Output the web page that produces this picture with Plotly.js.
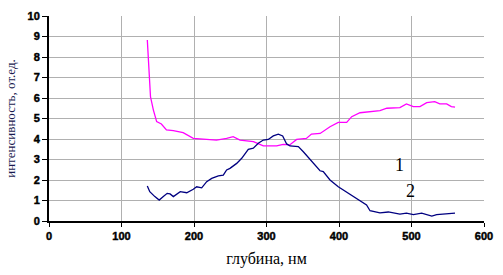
<!DOCTYPE html>
<html><head><meta charset="utf-8">
<script src="https://cdn.plot.ly/plotly-3.0.1.min.js"></script>
<style>body{margin:0;padding:0;background:#fff}#c{width:503px;height:275px}
.xtick text,.ytick text{font-weight:700 !important;stroke:#000;stroke-width:0.45px}</style>
</head><body><div id="c"></div>
<script>
const depth1 = [135.6,140,144,148.5,155,162,171.5,185,199,217.5,231,245,254,263.5,282,295.6,314,323,332,341.6,355,362,374,387.6,399,410.6,417.5,429,456.5,466,484,493,502.5,511.7,521,532,539,548.5,555,560];
const int1 = [8.83,6.06,5.41,4.85,4.73,4.44,4.41,4.31,4.03,4.0,3.95,4.03,4.11,3.95,3.87,3.66,3.66,3.74,3.71,3.98,4.03,4.24,4.27,4.6,4.81,4.81,5.09,5.28,5.38,5.5,5.53,5.71,5.58,5.58,5.77,5.82,5.71,5.71,5.58,5.55];
const depth2 = [135.6,139,146,152,157.7,163,167,171.5,181,190,199,203.7,210.6,217.5,224.4,233.6,240.4,245,249.6,258.9,265.8,274.9,281.8,288.7,295.6,302.5,309.4,316.3,322.3,327.8,332.4,343.9,350.8,360,366.9,373.8,378.3,387.6,399,415,431,438,442.8,456.5,468,484,493,502.6,514,528,534.7,548.5,560];
const int2 = [1.71,1.43,1.19,1.02,1.19,1.35,1.32,1.19,1.43,1.38,1.55,1.67,1.62,1.92,2.08,2.2,2.24,2.49,2.57,2.81,3.06,3.5,3.55,3.79,3.95,3.98,4.15,4.24,4.15,3.76,3.66,3.63,3.38,3.01,2.73,2.45,2.41,2.0,1.67,1.32,0.94,0.78,0.5,0.4,0.44,0.34,0.38,0.31,0.38,0.24,0.31,0.34,0.38];
const seriesLabels = ["1","2"];
const labelPos = [[484,2.73],[498,1.46]];
const xTicks = [0,100,200,300,400,500,600];
const yTicks = [0,1,2,3,4,5,6,7,8,9,10];

const data = [
  {x: depth1, y: int1, mode: 'lines', line: {color: '#ff00ff', width: 1.3}, hoverinfo: 'skip'},
  {x: depth2, y: int2, mode: 'lines', line: {color: '#000080', width: 1.3}, hoverinfo: 'skip'}
];
const tickFont = {family: 'Liberation Sans', size: 11, color: '#000'};
const layout = {
  width: 503, height: 275,
  margin: {l: 49, r: 19, t: 16, b: 54},
  paper_bgcolor: '#fff', plot_bgcolor: '#fff',
  showlegend: false,
  xaxis: {
    range: [0, 600], tickvals: xTicks, ticktext: xTicks.map(String),
    showgrid: true, gridcolor: '#b0b0b0', gridwidth: 1,
    showline: true, linecolor: '#000', linewidth: 2,
    ticks: 'outside', ticklen: 4, tickcolor: '#000', tickwidth: 1,
    zeroline: false,
    tickfont: tickFont,
    title: {text: 'глубина, нм', font: {family: 'Liberation Serif', size: 16, color: '#000'}, standoff: 12}
  },
  yaxis: {
    range: [0, 10], tickvals: yTicks, ticktext: yTicks.map(String),
    showgrid: true, gridcolor: '#b0b0b0', gridwidth: 1,
    showline: true, linecolor: '#000', linewidth: 2,
    ticks: 'outside', ticklen: 5, tickcolor: '#000', tickwidth: 1,
    zeroline: false,
    tickfont: tickFont,
    title: {text: 'интенсивность, от.ед.', font: {family: 'Liberation Serif', size: 13, color: '#1a1a50'}, standoff: 9}
  },
  annotations: seriesLabels.map((t, i) => ({
    x: labelPos[i][0], y: labelPos[i][1], xref: 'x', yref: 'y', text: t, showarrow: false,
    font: {family: 'Liberation Serif', size: 18, color: '#000'}
  }))
};
Plotly.newPlot('c', data, layout, {staticPlot: true, displayModeBar: false});
</script></body></html>
